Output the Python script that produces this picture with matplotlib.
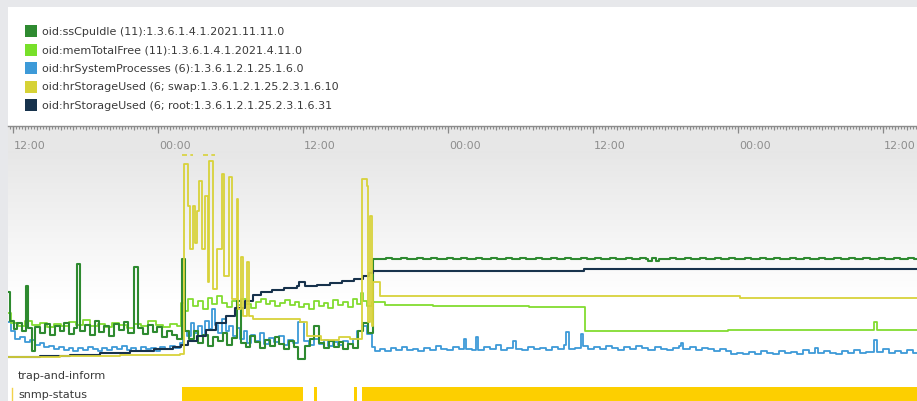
import numpy as np
import matplotlib
matplotlib.use("Agg")
import matplotlib.pyplot as plt
from matplotlib.patches import Rectangle

W, H = 917, 402

# hours after the first "12:00" tick, values are relative heights (no y scale shown)
cpu_t = [-0.45, -0.25, 0.05, 0.35, 0.75, 1.05, 1.25, 1.55, 1.85, 2.25, 2.65, 3.05, 3.45, 3.85,
         4.25, 4.65, 5.05, 5.3, 5.55, 5.95, 6.35, 6.75, 7.15, 7.55, 7.95, 8.35, 8.75, 9.15,
         9.55, 10.05, 10.35, 10.75, 11.15, 11.55, 11.95, 12.35, 12.75, 13.15, 13.55, 14.0,
         14.25, 14.55, 14.95, 15.35, 15.75, 16.15, 16.55, 16.95, 17.35, 17.75, 18.15, 18.55,
         18.85, 19.25, 19.65, 20.05, 20.45, 20.85, 21.25, 21.65, 22.05, 22.45, 22.85, 23.25,
         23.6, 24.15, 24.55, 24.95, 25.35, 25.75, 26.15, 26.55, 26.95, 27.35, 27.75, 28.15,
         28.55, 28.95, 29.35, 29.8,
         30.9, 31.4, 32.1, 32.6, 33.4, 33.9, 34.6, 35.1, 35.9, 36.4, 37.1, 37.6, 38.3, 38.8,
         39.6, 40.1, 40.8, 41.3, 42.0, 42.5, 43.3, 43.8, 44.5, 45.0, 45.7, 46.2, 47.0, 47.5,
         48.2, 48.7, 49.4, 49.9, 50.7, 51.2, 51.9, 52.4, 52.6, 52.9, 53.2, 53.5, 54.4, 54.9,
         55.6, 56.1, 56.9, 57.4, 58.1, 58.6, 59.3, 59.8, 60.6, 61.1, 61.8, 62.3, 63.0, 63.5,
         64.3, 64.8, 65.5, 66.0, 66.7, 67.2, 68.0, 68.5, 69.2, 69.7, 70.4, 70.9, 71.7, 72.2,
         72.9, 73.4, 74.1, 74.6, 74.9]
cpu_v = [69, 40, 32, 38, 30, 75, 33, 10, 34, 28, 37, 26, 35, 30,
         38, 27, 33, 97, 30, 36, 26, 40, 29, 35, 25, 37, 31, 39,
         28, 94, 33, 27, 36, 29, 34, 24, 30, 26, 22, 102,
         30, 22, 30, 18, 26, 15, 24, 20, 28, 16, 23, 60,
         18, 14, 25, 19, 13, 21, 15, 24, 17, 12, 20, 14,
         2, 15, 22, 35, 18, 13, 20, 14, 19, 12, 17, 13,
         30, 38, 28, 102,
         103, 102, 103, 102, 103, 102, 103, 102, 103, 102, 103, 102, 103, 102,
         103, 102, 103, 102, 103, 102, 103, 102, 103, 102, 103, 102, 103, 102,
         103, 102, 103, 102, 103, 102, 103, 102, 100, 103, 100, 102, 103, 102,
         103, 102, 103, 102, 103, 102, 103, 102, 103, 102, 103, 102, 103, 102,
         103, 102, 103, 102, 103, 102, 103, 102, 103, 102, 103, 102, 103, 102,
         103, 102, 103, 102, 102]

mem_t = [-0.45, -0.2, 0.4, 1.0, 1.6, 2.2, 2.8, 3.4, 4.0, 4.6, 5.2, 5.8, 6.4, 7.0, 7.6, 8.2,
         8.8, 9.4, 10.0, 10.6, 11.2, 11.8, 12.4, 13.0, 13.6, 13.9, 14.2, 14.5, 14.9, 15.3,
         15.7, 16.1, 16.5, 16.9, 17.3, 17.7, 18.1, 18.5, 18.9, 19.3, 19.7, 20.1, 20.5, 20.9,
         21.3, 21.7, 22.1, 22.5, 22.9, 23.3, 23.7, 24.1, 24.5, 24.9, 25.3, 25.7, 26.1, 26.5,
         26.9, 27.3, 27.7, 28.1, 28.5, 28.8, 29.0, 29.3, 29.7, 30.8, 34.8, 42.7, 47.35, 59.2,
         71.3, 71.55, 74.9]
mem_v = [48, 38, 35, 40, 36, 38, 34, 37, 35, 39, 36, 41, 35, 37, 34, 38,
         36, 33, 37, 35, 40, 36, 34, 37, 35, 58, 50, 62, 55, 60,
         52, 63, 57, 65, 58, 54, 60, 56, 62, 57, 53, 59, 62, 57,
         60, 55, 58, 61, 56, 59, 54, 57, 52, 60, 55, 58, 53, 61,
         56, 59, 54, 62, 57, 68, 60, 55, 59, 56, 55, 54, 30, 31,
         39, 31, 31]

proc_t = [-0.45, -0.2, 0.2, 0.6, 1.0, 1.4, 1.8, 2.2, 2.6, 3.0, 3.4, 3.8, 4.2, 4.6, 5.0, 5.4,
          5.8, 6.2, 6.6, 7.0, 7.4, 7.8, 8.2, 8.6, 9.0, 9.4, 9.8, 10.2, 10.6, 11.0, 11.4, 11.8,
          12.2, 12.6, 13.0, 13.4, 13.8, 14.1, 14.4, 14.7, 15.0, 15.3, 15.6, 15.9, 16.2, 16.5,
          16.7, 17.0, 17.3, 17.6, 17.9, 18.2, 18.5, 18.8, 19.1, 19.4, 19.7, 20.0, 20.4, 20.8,
          21.2, 21.6, 22.0, 22.4, 22.8, 23.2, 23.6, 24.1, 24.5, 24.9, 25.3, 25.7, 26.1, 26.5,
          26.9, 27.3, 27.7, 28.1, 28.5, 28.9, 29.3, 29.7,
          30.0, 30.4, 30.8, 31.3, 31.7, 32.2, 32.6, 33.1, 33.5, 34.0, 34.5, 35.0, 35.4, 35.9,
          36.4, 36.9, 37.3, 37.5, 38.0, 38.3, 38.5, 39.0, 39.5, 40.0, 40.4, 40.9, 41.4, 41.6,
          42.1, 42.6, 43.1, 43.6, 44.1, 44.6, 45.1, 45.6, 45.8, 46.0, 46.5, 47.0, 47.2, 47.6,
          48.1, 48.6, 49.1, 49.6, 50.1, 50.6, 51.1, 51.6, 52.1, 52.6, 53.1, 53.6, 54.1, 54.6,
          55.1, 55.3, 55.5, 56.0, 56.5, 57.0, 57.5, 58.0, 58.5, 59.0, 59.4, 59.9, 60.4, 60.9,
          61.4, 61.9, 62.4, 62.9, 63.4, 63.9, 64.4, 64.9, 65.4, 65.9, 66.4, 66.6, 67.1, 67.6,
          68.1, 68.6, 69.1, 69.6, 70.1, 70.6, 71.3, 71.5, 72.0, 72.5, 73.0, 73.5, 74.0, 74.5,
          74.9]
proc_v = [39, 30, 22, 24, 19, 21, 16, 18, 14, 15, 12, 14, 11, 13, 10, 13,
          11, 14, 12, 10, 13, 11, 14, 12, 15, 11, 13, 10, 14, 12, 13, 10,
          14, 12, 15, 13, 18, 30, 25, 38, 28, 35, 26, 40, 32, 52,
          36, 28, 42, 30, 35, 25, 33, 22, 30, 18, 26, 20, 28, 17,
          23, 19, 25, 16, 21, 18, 39, 20, 16, 22, 17, 21, 15, 19,
          16, 20, 17, 22, 30, 35, 27, 14,
          10, 12, 10, 13, 11, 14, 11, 12, 10, 13, 11, 15, 12, 11,
          14, 12, 22, 12, 11, 24, 11, 14, 12, 16, 11, 13, 20, 12,
          11, 14, 12, 13, 11, 14, 12, 16, 29, 12, 13, 27, 15, 12,
          14, 12, 15, 13, 11, 14, 12, 15, 13, 11, 14, 12, 11, 13,
          15, 18, 12, 14, 11, 13, 12, 10, 12, 10, 7, 8, 7, 9,
          7, 10, 8, 7, 10, 8, 9, 7, 11, 8, 13, 8, 10, 8,
          7, 10, 8, 11, 8, 9, 21, 9, 12, 8, 10, 8, 11, 8,
          8]

swap_t = [-0.45, 3.9, 8.86, 13.82, 14.18, 14.51, 14.65, 14.93, 15.07, 15.23, 15.4, 15.65,
          15.89, 16.14, 16.25, 16.58, 16.86, 17.28, 17.47, 17.9, 18.1, 18.52, 18.65, 18.85,
          19.06, 19.35, 19.56, 19.87, 23.76, 24.34, 25.5, 27.0, 27.9, 28.87, 29.28, 29.41,
          29.55, 29.69, 29.83, 30.38, 60.18, 74.9]
swap_v = [4, 5, 6, 7, 197, 155, 112, 155, 118, 150, 180, 112,
          165, 79, 200, 72, 112, 187, 85, 184, 62, 162, 52, 104,
          45, 99, 45, 42, 39, 25, 21, 24, 22, 182, 175, 39,
          145, 35, 79, 65, 63, 63]
swap_offscale = [(13.99, 14.9), (15.73, 16.72)]

root_t = [-0.45, 2.2, 4.7, 7.2, 9.7, 11.7, 13.2, 13.9, 14.5, 15.2, 16.0, 16.8, 17.6, 18.4,
          19.2, 19.9, 20.5, 21.4, 22.4, 23.5, 23.7, 24.2, 25.2, 26.2, 27.2, 28.2, 29.0, 29.5,
          29.8, 47.3, 74.9]
root_v = [4, 5, 6, 8, 10, 12, 14, 16, 20, 25, 31, 38, 45, 53,
          60, 66, 69, 71, 73, 75, 79, 75, 76, 78, 80, 82, 85, 88,
          90, 92, 92]

snmp_spans = [(13.99, 23.97), (24.9, 25.15), (28.2, 28.45), (28.9, 74.9)]

tick_hours = [0, 12, 24, 36, 48, 60, 72]
tick_labels = ["12:00", "00:00", "12:00", "00:00", "12:00", "00:00", "12:00"]

legend_labels = ["oid:ssCpuIdle (11):1.3.6.1.4.1.2021.11.11.0",
                 "oid:memTotalFree (11):1.3.6.1.4.1.2021.4.11.0",
                 "oid:hrSystemProcesses (6):1.3.6.1.2.1.25.1.6.0",
                 "oid:hrStorageUsed (6; swap:1.3.6.1.2.1.25.2.3.1.6.10",
                 "oid:hrStorageUsed (6; root:1.3.6.1.2.1.25.2.3.1.6.31"]
legend_colors = ["#2e8a30", "#78e02a", "#3d9ad8", "#d6d236", "#17324c"]

c_cpu, c_mem, c_proc, c_swap, c_root = legend_colors
xlim = (-0.42, 74.83)


def box(x0, y0, x1, y1):
    # pixel box measured from the top-left corner -> figure fraction
    return [x0 / W, 1 - y1 / H, (x1 - x0) / W, (y1 - y0) / H]


fig = plt.figure(figsize=(W / 100, H / 100), dpi=100, facecolor="#e7e8eb")
plt.rcParams["font.family"] = ["DejaVu Sans"]
fig.patches.append(Rectangle((8 / W, 0), 1, 1 - 8 / H, transform=fig.transFigure,
                             facecolor="white", edgecolor="none", zorder=-5))

# legend
for i, (lab, col) in enumerate(zip(legend_labels, legend_colors)):
    yc = 32 + i * 18.5
    fig.patches.append(Rectangle((25 / W, 1 - (yc + 6) / H), 12 / W, 12 / H,
                                 transform=fig.transFigure, facecolor=col, edgecolor="none"))
    fig.text(42 / W, 1 - yc / H, lab, fontsize=8, color="#3a3a3a", va="center", ha="left")

# time ruler
ax_r = fig.add_axes(box(8, 127, 917, 152))
ax_r.set_xlim(*xlim)
ax_r.set_ylim(0, 25)
ax_r.set_facecolor("#e7e7e7")
for s in ["left", "right", "bottom"]:
    ax_r.spines[s].set_visible(False)
ax_r.spines["top"].set_color("#8c8c8c")
ax_r.spines["top"].set_linewidth(1.0)
ax_r.set_xticks([])
ax_r.set_yticks([])
q = np.arange(-0.25, 75, 0.25)
ax_r.vlines(q, 22.5, 25, color="#8c8c8c", lw=0.8)
hrs = np.arange(0, 75, 1.0)
ax_r.vlines(hrs, 21, 25, color="#8a8a8a", lw=0.8)
ax_r.vlines(tick_hours, 18.5, 25, color="#888888", lw=0.9)
for th, tl in zip(tick_hours, tick_labels):
    ax_r.text(th + 0.1, 6, tl, fontsize=8, color="#8e8e8e", ha="left", va="center")

# main plot
ax = fig.add_axes(box(8, 152, 917, 365))
ax.set_xlim(*xlim)
ax.set_ylim(-3, 210)
ax.axis("off")
rows = np.linspace(210, -3, 213)
shade = np.clip(0.905 + 0.095 * (210 - rows) / 148, 0.905, 1.0)
img = np.repeat(shade[:, None], 3, axis=1)[:, None, :]
ax.imshow(img, extent=[xlim[0], xlim[1], -3, 210], aspect="auto", zorder=0,
          interpolation="bilinear")

ax.step(proc_t, proc_v, where="post", color=c_proc, lw=1.3, zorder=2)
ax.step(mem_t, mem_v, where="post", color="#82dc30", lw=1.3, zorder=3)
ax.step(cpu_t, cpu_v, where="post", color=c_cpu, lw=1.5, zorder=4)
ax.step(root_t, root_v, where="post", color=c_root, lw=1.5, zorder=5)
ax.step(swap_t, swap_v, where="post", color="#d8d23a", lw=1.3, zorder=6)
for a, b in swap_offscale:
    ax.plot([a, b], [206, 206], color="#d8d23a", lw=1.2, ls=(0, (3, 2)), zorder=6)

# status rows
fig.text(18 / W, 1 - 376 / H, "trap-and-inform", fontsize=8, color="#3a3a3a", va="center")
fig.text(18 / W, 1 - 395 / H, "snmp-status", fontsize=8, color="#3a3a3a", va="center")
ax_s = fig.add_axes(box(8, 388, 917, 402))
ax_s.set_xlim(*xlim)
ax_s.set_ylim(0, 1)
ax_s.axis("off")
ax_s.broken_barh([(a, b - a) for a, b in snmp_spans], (0, 1), facecolor="#fdcf00",
                 edgecolor="none")
fig.add_artist(plt.Line2D([11.5 / W, 11.5 / W], [0, 1 - 389 / H], color="#f2d24a", lw=1))

fig.savefig("out.png", dpi=100, facecolor=fig.get_facecolor())
